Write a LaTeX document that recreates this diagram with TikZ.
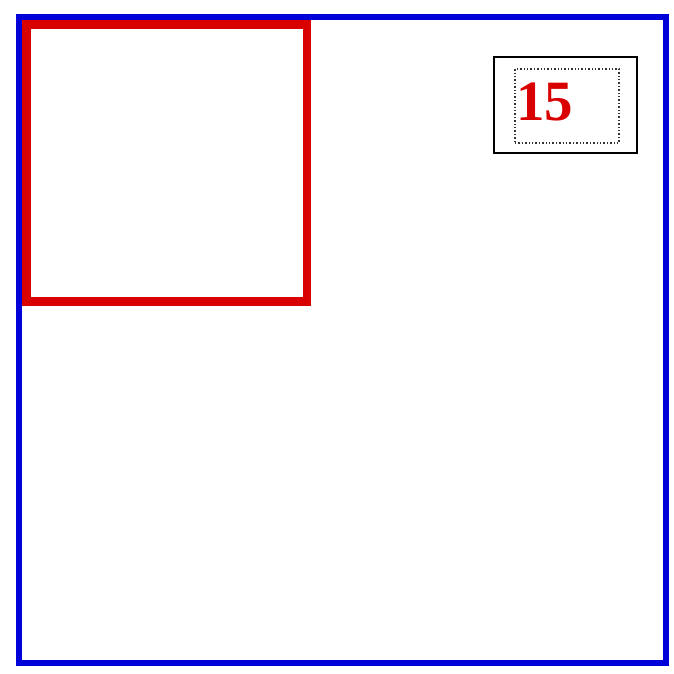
\documentclass[tikz,border=0pt]{standalone}
\usepackage{fontspec}
\setmainfont{Liberation Serif}
\usetikzlibrary{positioning}

\begin{document}
\begin{tikzpicture}[
    x=1pt, y=-1pt,
    outer_frame/.style={draw=blue!85!black, line width=6.5pt},
    red_frame/.style={draw=red!85!black, line width=8.5pt},
    label_box/.style={rectangle, draw=black, line width=1.4pt, minimum width=143pt, minimum height=96pt, inner sep=0pt},
    dotted_box/.style={rectangle, draw=black!80, dotted, line width=1.4pt, minimum width=104pt, minimum height=74pt, inner sep=0pt},
    count_text/.style={font=\fontsize{57}{60}\selectfont\bfseries, text=red!85!black, inner sep=0pt}
]
\useasboundingbox (0,0) rectangle (673,674);

% Outer blue frame
\node[outer_frame, rectangle, minimum width=647pt, minimum height=646pt, inner sep=0pt] (frame) at (342.5,340) {};

% Red square, top left
\node[red_frame, rectangle, minimum width=280.5pt, minimum height=277pt, inner sep=0pt] (square) at (166.75,163) {};

% Label box with counter
\node[label_box] (labelbox) at (565.5,105) {};
\node[dotted_box] (countbox) at (567,106) {};
\node[count_text, anchor=base west] (count) at (516,121) {15};

\end{tikzpicture}
\end{document}
